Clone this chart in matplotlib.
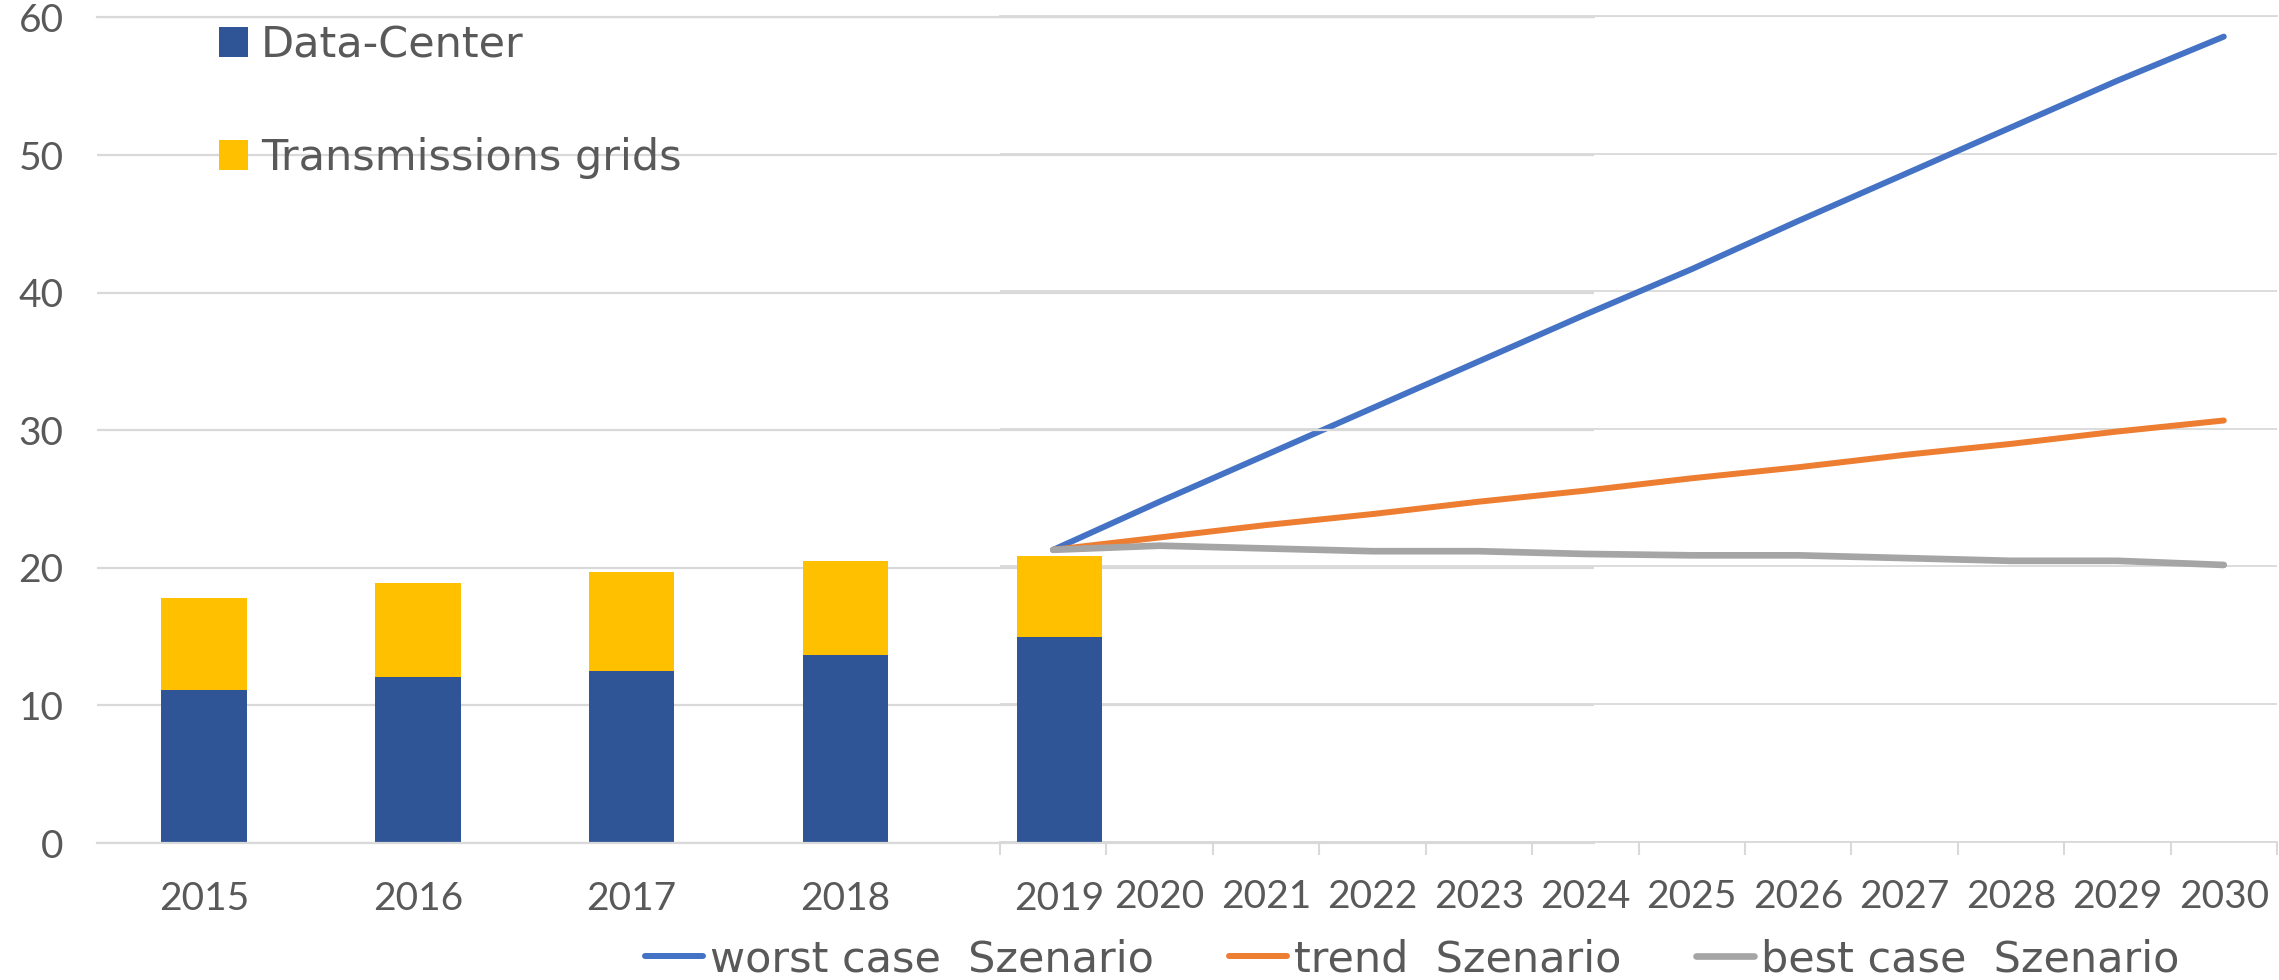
import matplotlib.pyplot as plt
import numpy as np

# stacked bars (historic)
bar_years = ["2015", "2016", "2017", "2018", "2019"]
data_center = [11.1, 12.05, 12.5, 13.65, 14.95]
transmission = [6.7, 6.85, 7.2, 6.85, 5.9]

# scenario lines (forecast)
line_years = ["2019", "2020", "2021", "2022", "2023", "2024",
              "2025", "2026", "2027", "2028", "2029", "2030"]
worst_case = [21.2, 24.7, 28.1, 31.5, 34.9, 38.3, 41.6, 45.1, 48.5, 51.9, 55.3, 58.5]
trend = [21.2, 22.1, 23.0, 23.8, 24.7, 25.5, 26.4, 27.2, 28.1, 28.9, 29.8, 30.6]
best_case = [21.2, 21.5, 21.3, 21.1, 21.1, 20.9, 20.8, 20.8, 20.6, 20.4, 20.4, 20.1]

plt.rcParams['font.family'] = ['Lato', 'DejaVu Sans']
TXT = "#595959"
GRID = "#d9d9d9"

W, H = 2279, 980
fig = plt.figure(figsize=(W / 100, H / 100), dpi=100)


def px_rect(left, right, top, bottom):
    return [left / W, 1 - bottom / H, (right - left) / W, (bottom - top) / H]


# line chart sits underneath, bar chart (transparent) on top
ax_line = fig.add_axes(px_rect(1000, 2277, 16, 841.5), zorder=0)
ax_bar = fig.add_axes(px_rect(97, 1594, 17.5, 843), zorder=1)
ax_bar.patch.set_visible(False)

# bar chart
x = np.arange(len(bar_years))
ax_bar.bar(x, data_center, width=0.4, color="#2F5597", label="Data-Center", zorder=2)
ax_bar.bar(x, transmission, bottom=data_center, width=0.4, color="#FFC000",
           label="Transmissions grids", zorder=2)
ax_bar.set_xlim(-0.5, 6.5)
ax_bar.set_ylim(0, 60)
ax_bar.set_yticks(range(0, 61, 10))
ax_bar.set_xticks(x, bar_years)
ax_bar.yaxis.grid(True, color=GRID, lw=1.6)
ax_bar.set_axisbelow(True)
for s in ["left", "right"]:
    ax_bar.spines[s].set_visible(False)
for s in ["top", "bottom"]:
    ax_bar.spines[s].set_color(GRID)
    ax_bar.spines[s].set_linewidth(1.6)
ax_bar.tick_params(axis="both", length=0, labelsize=28, labelcolor=TXT)
ax_bar.tick_params(axis="y", pad=24)
ax_bar.tick_params(axis="x", pad=27)

# line chart
xl = np.arange(len(line_years))
ax_line.plot(xl, worst_case, color="#4472C4", lw=4.3, solid_capstyle="round",
             label="worst case  Szenario")
ax_line.plot(xl, trend, color="#ED7D31", lw=4.3, solid_capstyle="round",
             label="trend  Szenario")
ax_line.plot(xl, best_case, color="#A5A5A5", lw=4.8, solid_capstyle="round",
             label="best case  Szenario")
ax_line.set_xlim(-0.5, 11.5)
ax_line.set_ylim(0, 60)
ax_line.set_yticks(range(0, 61, 10))
ax_line.yaxis.grid(True, color=GRID, lw=1.3)
line_labels = [y if y not in bar_years else "" for y in line_years]
ax_line.set_xticks(xl, line_labels)
ax_line.set_xticks(np.arange(-0.5, 12, 1), minor=True)
ax_line.tick_params(axis="x", which="major", length=0, pad=27, labelsize=28, labelcolor=TXT)
ax_line.tick_params(axis="x", which="minor", length=9.4, width=1.5, color=GRID)
ax_line.tick_params(axis="y", length=0, labelleft=False)
for s in ["left", "right"]:
    ax_line.spines[s].set_visible(False)
for s in ["top", "bottom"]:
    ax_line.spines[s].set_color(GRID)
    ax_line.spines[s].set_linewidth(1.3)

# legends
h, l = ax_bar.get_legend_handles_labels()
fig.legend(h, l, loc="upper left", bbox_to_anchor=(219 / W, 1 - 24 / H),
           frameon=False, prop={"family": "DejaVu Sans", "size": 31},
           handlelength=0.67, handleheight=0.67, handletextpad=0.3,
           labelspacing=1.65, borderpad=0, borderaxespad=0, labelcolor=TXT)

h2, l2 = ax_line.get_legend_handles_labels()
fig.legend(h2, l2, loc="center", bbox_to_anchor=(1412 / W, 1 - 959 / H), ncol=3,
           frameon=False, prop={"family": "DejaVu Sans", "size": 31},
           handlelength=1.35, handletextpad=0.16, columnspacing=1.74,
           borderpad=0, borderaxespad=0, labelcolor=TXT)

fig.savefig("out.png", dpi=100)
